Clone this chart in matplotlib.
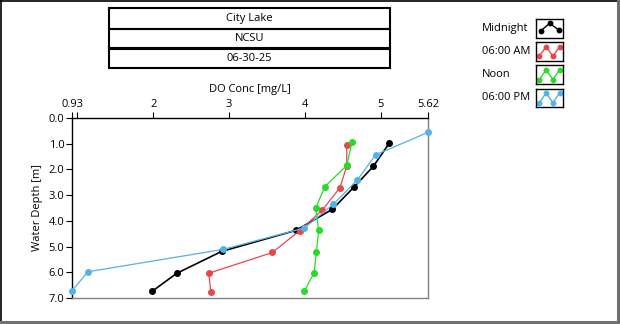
import matplotlib
matplotlib.use("Agg")
import matplotlib.pyplot as plt
from matplotlib.patches import Rectangle
from matplotlib.lines import Line2D

plt.rcParams['font.family'] = ['Open Sans', 'DejaVu Sans']
plt.rcParams['font.size'] = 8

W, H = 620, 324

# profile data: DO concentration [mg/L] vs water depth [m]
midnight_do = [5.11, 4.90, 4.64, 4.36, 3.88, 2.90, 2.31, 1.99]
midnight_depth = [0.98, 1.88, 2.70, 3.55, 4.37, 5.19, 6.04, 6.73]
am6_do = [4.55, 4.55, 4.46, 4.23, 3.93, 3.57, 2.73, 2.76]
am6_depth = [1.04, 1.86, 2.71, 3.57, 4.38, 5.23, 6.04, 6.76]
noon_do = [4.62, 4.55, 4.26, 4.14, 4.18, 4.15, 4.12, 3.99]
noon_depth = [0.92, 1.84, 2.67, 3.51, 4.36, 5.21, 6.02, 6.74]
pm6_do = [5.62, 4.93, 4.69, 4.37, 3.99, 2.92, 1.14, 0.93]
pm6_depth = [0.56, 1.43, 2.41, 3.36, 4.28, 5.11, 5.98, 6.72]

series_names = ['Midnight', '06:00 AM', 'Noon', '06:00 PM']
series_colors = ['#000000', '#e8474a', '#27dc27', '#52b4e6']
title_rows = ['City Lake', 'NCSU', '06-30-25']

x_ticks = [0.93, 1, 2, 3, 4, 5, 5.62]
x_labels = ['0.93', '', '2', '3', '4', '5', '5.62']
y_ticks = [0, 1, 2, 3, 4, 5, 6, 7]


def px(x0, y0, w, h):
    # pixel box (top-left origin) -> figure fraction box
    return [x0 / W, 1 - (y0 + h) / H, w / W, h / H]


fig = plt.figure(figsize=(W / 100, H / 100), dpi=100)

# outer frame
fig.add_artist(Line2D([1 / W, 1 / W], [1 - 1 / H, 1 - 321 / H], color='black', lw=1.2))
fig.add_artist(Line2D([1 / W, 618 / W], [1 - 1 / H, 1 - 1 / H], color='black', lw=1.2))
fig.add_artist(Line2D([618 / W, 618 / W], [1 - 1 / H, 1 - 322 / H], color='#707070', lw=2.2))
fig.add_artist(Line2D([1 / W, 618 / W], [1 - 322 / H, 1 - 322 / H], color='#707070', lw=2.2))

# title table
for i, txt in enumerate(title_rows):
    b = px(109, 8.5 + i * 20, 281, 20)
    fig.add_artist(Rectangle((b[0], b[1]), b[2], b[3], transform=fig.transFigure,
                             fill=False, edgecolor='black', lw=1.5))
    fig.text(b[0] + b[2] / 2, b[1] + b[3] / 2, txt, ha='center', va='center', fontsize=8)

# main plot
ax = fig.add_axes(px(72, 118, 356, 180))
data = [(midnight_do, midnight_depth), (am6_do, am6_depth),
        (noon_do, noon_depth), (pm6_do, pm6_depth)]
for (xs, ys), c, name in zip(data, series_colors, series_names):
    ax.plot(xs, ys, color=c, lw=1.2 if c == '#000000' else 0.9,
            marker='o', ms=4, label=name, clip_on=False, zorder=3)

ax.set_xlim(0.93, 5.62)
ax.set_ylim(7, 0)
ax.xaxis.tick_top()
ax.xaxis.set_label_position('top')
ax.set_xticks(x_ticks)
ax.set_xticklabels(x_labels)
ax.set_yticks(y_ticks)
ax.set_yticklabels([f'{v:.1f}' for v in y_ticks])
ax.tick_params(length=4, width=0.8, pad=1.5, labelsize=8)
ax.set_xlabel('DO Conc [mg/L]', fontsize=8, labelpad=5)
ax.set_ylabel('Water Depth [m]', fontsize=8, labelpad=4)
ax.spines['top'].set_color('black')
ax.spines['left'].set_color('black')
ax.spines['right'].set_color('#808080')
ax.spines['bottom'].set_color('#808080')
for s in ax.spines.values():
    s.set_linewidth(1.0)

# legend with small icon boxes
icon_patterns = [([0, 1, 2], [0.2, 1, 0.35]),
                 ([0, 1, 2, 3], [0, 1, 0, 1]),
                 ([0, 1, 2, 3], [0, 1, 0, 1]),
                 ([0, 1, 2, 3], [0, 1, 0, 1])]
for i, (name, c) in enumerate(zip(series_names, series_colors)):
    y0 = 19 + i * 23.2
    fig.text(482 / W, 1 - (y0 + 9) / H, name, ha='left', va='center', fontsize=8)
    iax = fig.add_axes(px(536, y0, 27, 18.5))
    ix, iy = icon_patterns[i]
    iax.plot(ix, iy, color=c, marker='o', ms=3.2, lw=1)
    iax.set_xlim(-0.5, ix[-1] + 0.5)
    iax.set_ylim(-0.45, 1.45)
    iax.set_xticks([])
    iax.set_yticks([])
    for s in iax.spines.values():
        s.set_linewidth(1.0)

fig.savefig('out.png', dpi=100)
